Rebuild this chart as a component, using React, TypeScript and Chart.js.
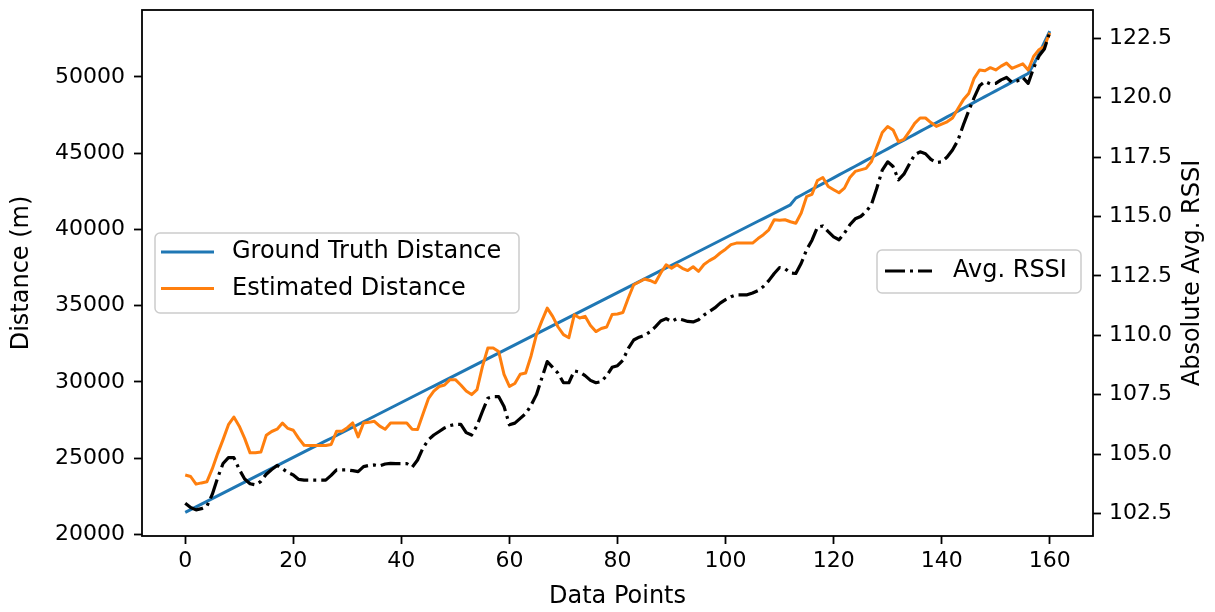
import React, { useEffect, useRef } from "react";
import { Chart, registerables } from "chart.js";

Chart.register(...registerables);

const FONT = '"DejaVu Sans", Verdana, sans-serif';

const dataPoints = Array.from({ length: 161 }, (_, i) => i);

const groundTruth = [
  21450, 21630, 21810, 21990, 22170, 22350, 22530, 22710, 22890, 23070,
  23250, 23430, 23610, 23790, 23970, 24150, 24330, 24510, 24690, 24870,
  25050, 25230, 25410, 25590, 25770, 25950, 26130, 26310, 26490, 26670,
  26850, 27030, 27210, 27390, 27570, 27750, 27930, 28110, 28290, 28470,
  28650, 28830, 29010, 29190, 29370, 29550, 29730, 29910, 30090, 30270,
  30450, 30630, 30810, 30990, 31170, 31350, 31530, 31710, 31890, 32070,
  32250, 32430, 32610, 32790, 32970, 33150, 33330, 33510, 33690, 33870,
  34050, 34230, 34410, 34590, 34770, 34950, 35130, 35310, 35490, 35670,
  35850, 36030, 36210, 36390, 36570, 36750, 36930, 37110, 37290, 37470,
  37650, 37830, 38010, 38190, 38370, 38550, 38730, 38910, 39090, 39270,
  39450, 39630, 39810, 39990, 40170, 40350, 40530, 40710, 40890, 41070,
  41250, 41430, 41610, 42050, 42240, 42430, 42620, 42810, 43000, 43190,
  43380, 43570, 43760, 43950, 44140, 44330, 44520, 44710, 44900, 45090,
  45280, 45470, 45660, 45850, 46040, 46230, 46420, 46610, 46800, 46990,
  47180, 47370, 47560, 47750, 47940, 48130, 48320, 48510, 48700, 48890,
  49080, 49270, 49460, 49650, 49840, 50030, 50220, 50800, 51500, 52250,
  53000,
];

const estimated = [
  23900, 23800, 23300, 23380, 23450, 24300, 25300, 26220, 27200, 27700,
  27100, 26300, 25350, 25350, 25400, 26500, 26750, 26900, 27300, 26950,
  26830, 26300, 25850, 25830, 25830, 25830, 25830, 25900, 26770, 26770,
  27000, 27310, 26400, 27310, 27350, 27420, 27100, 26900, 27310, 27310,
  27310, 27310, 26900, 26880, 27900, 28900, 29400, 29700, 29800, 30150,
  30150, 29800, 29400, 29170, 29500, 31000, 32220, 32220, 32000, 30500,
  29710, 29900, 30500, 30590, 31700, 33100, 34000, 34840, 34300, 33600,
  33100, 32900, 34400, 34190, 34300, 33700, 33300, 33500, 33600, 34420,
  34450, 34550, 35500, 36370, 36550, 36750, 36650, 36500, 37140, 37680,
  37460, 37680, 37450, 37300, 37550, 37250, 37700, 37950, 38150, 38450,
  38700, 39000, 39100, 39100, 39100, 39100, 39400, 39650, 39970, 40630,
  40600, 40630, 40500, 40400, 41070, 42160, 42300, 43200, 43400, 42810,
  42600, 42400, 42700, 43400, 43800, 43900, 44000, 44450, 45400, 46350,
  46740, 46520, 45750, 45900, 46400, 46950, 47300, 47300, 47000, 46750,
  46900, 47050, 47300, 47900, 48490, 48900, 49900, 50450, 50400, 50600,
  50450, 50700, 50900, 50550, 50700, 50850, 50450, 51330, 51780, 52000,
  52880,
];

const avgRssi = [
  102.93, 102.75, 102.65, 102.7, 102.8, 103.3, 104.0, 104.6, 104.85, 104.85,
  104.35, 103.95, 103.75, 103.7, 103.85, 104.15, 104.35, 104.52, 104.38, 104.22,
  104.12, 103.93, 103.9, 103.9, 103.9, 103.9, 103.9, 104.1, 104.33, 104.33,
  104.33, 104.3, 104.26, 104.47, 104.52, 104.54, 104.5, 104.58, 104.61, 104.6,
  104.6, 104.6, 104.45, 104.75, 105.25, 105.6, 105.8, 105.95, 106.1, 106.2,
  106.25, 106.25, 105.9, 105.8, 106.2, 106.79, 107.35, 107.42, 107.42, 107.0,
  106.23, 106.3, 106.5, 106.7, 107.05, 107.5, 108.2, 108.89, 108.65, 108.4,
  108.0, 108.0, 108.5, 108.45, 108.3, 108.1, 108.0, 108.05, 108.3, 108.65,
  108.72, 108.95, 109.45, 109.8, 109.92, 110.0, 110.14, 110.35, 110.6, 110.7,
  110.58, 110.7, 110.65, 110.58, 110.56, 110.65, 110.85, 111.0, 111.15, 111.35,
  111.5, 111.62, 111.7, 111.7, 111.7, 111.78, 111.88, 112.05, 112.3, 112.6,
  112.85, 112.8, 112.62, 112.6, 113.03, 113.6, 114.0, 114.55, 114.6, 114.36,
  114.14, 114.02, 114.3, 114.65, 114.9, 115.0, 115.2, 115.5, 116.2, 116.95,
  117.3, 117.1, 116.54, 116.78, 117.2, 117.6, 117.72, 117.64, 117.4, 117.27,
  117.3, 117.5, 117.8, 118.2, 118.85, 119.45, 120.0, 120.5, 120.68, 120.58,
  120.6, 120.75, 120.85, 120.65, 120.7, 120.85, 120.6, 121.24, 121.75, 122.05,
  122.75,
];

const xTicks = [0, 20, 40, 60, 80, 100, 120, 140, 160];
const leftTicks = [20000, 25000, 30000, 35000, 40000, 45000, 50000];
const rightTicks = [102.5, 105.0, 107.5, 110.0, 112.5, 115.0, 117.5, 120.0, 122.5];

const xTitle = "Data Points";
const leftTitle = "Distance (m)";
const rightTitle = "Absolute Avg. RSSI";

const BLUE = "#1f77b4";
const ORANGE = "#ff7f0e";
const BLACK = "#000000";
const RSSI_DASH = [20, 5, 3, 5];

function legendBox(ctx: CanvasRenderingContext2D, x: number, y: number, w: number, h: number) {
  ctx.save();
  ctx.beginPath();
  (ctx as any).roundRect(x, y, w, h, 5);
  ctx.fillStyle = "rgba(255,255,255,0.8)";
  ctx.fill();
  ctx.strokeStyle = "#cccccc";
  ctx.lineWidth = 1.5;
  ctx.stroke();
  ctx.restore();
}

function legendItem(
  ctx: CanvasRenderingContext2D,
  x0: number,
  x1: number,
  tx: number,
  y: number,
  color: string,
  dash: number[],
  label: string
) {
  ctx.save();
  ctx.strokeStyle = color;
  ctx.lineWidth = 3.2;
  ctx.setLineDash(dash);
  ctx.lineCap = "butt";
  ctx.beginPath();
  ctx.moveTo(x0, y);
  ctx.lineTo(x1, y);
  ctx.stroke();
  ctx.setLineDash([]);
  ctx.fillStyle = "#000";
  ctx.font = `24px ${FONT}`;
  ctx.textAlign = "left";
  ctx.textBaseline = "middle";
  ctx.fillText(label, tx, y);
  ctx.restore();
}

const decorPlugin = {
  id: "decor",
  afterDatasetsDraw(chart: any) {
    const { ctx, chartArea: a } = chart;
    ctx.save();
    ctx.strokeStyle = "#000";
    ctx.lineWidth = 1.8;
    ctx.strokeRect(a.left, a.top, a.right - a.left, a.bottom - a.top);
    ctx.restore();
  },
  afterDraw(chart: any) {
    const { ctx, chartArea: a } = chart;
    const ds = chart.data.datasets;
    const midY = (a.top + a.bottom) / 2;
    ctx.save();
    ctx.fillStyle = "#000";
    ctx.font = `24px ${FONT}`;
    ctx.textAlign = "center";
    ctx.textBaseline = "middle";
    ctx.fillText(xTitle, (a.left + a.right) / 2, 597);
    ctx.save();
    ctx.translate(22, midY);
    ctx.rotate(-Math.PI / 2);
    ctx.fillText(leftTitle, 0, 0);
    ctx.restore();
    ctx.save();
    ctx.translate(1193, midY);
    ctx.rotate(-Math.PI / 2);
    ctx.fillText(rightTitle, 0, 0);
    ctx.restore();
    ctx.restore();

    // legend for distance axis
    legendBox(ctx, 155, 233, 364, 80);
    legendItem(ctx, 161, 214, 232, 252, ds[2].borderColor, [], ds[2].label);
    legendItem(ctx, 161, 214, 232, 288.5, ds[1].borderColor, [], ds[1].label);
    // legend for RSSI axis
    legendBox(ctx, 877, 250, 204, 43);
    legendItem(ctx, 885, 932, 953, 271, ds[0].borderColor, RSSI_DASH, ds[0].label);
  },
};

function tickGrid() {
  return {
    display: true,
    drawOnChartArea: false,
    drawTicks: true,
    tickLength: 8,
    tickWidth: 1.8,
    tickColor: "#000",
  };
}

function noPad(s: any) {
  s.paddingTop = 0;
  s.paddingBottom = 0;
  s.paddingLeft = 0;
  s.paddingRight = 0;
}

export default function App() {
  const canvasRef = useRef<HTMLCanvasElement | null>(null);

  useEffect(() => {
    const canvas = canvasRef.current;
    if (!canvas) return;
    const chart = new Chart(canvas, {
      type: "line",
      data: {
        datasets: [
          {
            label: "Avg. RSSI",
            data: dataPoints.map((x, i) => ({ x, y: avgRssi[i] })),
            yAxisID: "y1",
            borderColor: BLACK,
            borderWidth: 3.2,
            borderDash: RSSI_DASH,
            borderCapStyle: "butt",
            borderJoinStyle: "round",
            pointRadius: 0,
            tension: 0,
            order: 0,
          },
          {
            label: "Estimated Distance",
            data: dataPoints.map((x, i) => ({ x, y: estimated[i] })),
            yAxisID: "y",
            borderColor: ORANGE,
            borderWidth: 3,
            borderJoinStyle: "round",
            pointRadius: 0,
            tension: 0,
            order: 1,
          },
          {
            label: "Ground Truth Distance",
            data: dataPoints.map((x, i) => ({ x, y: groundTruth[i] })),
            yAxisID: "y",
            borderColor: BLUE,
            borderWidth: 3,
            borderJoinStyle: "round",
            pointRadius: 0,
            tension: 0,
            order: 2,
          },
        ],
      },
      options: {
        responsive: false,
        animation: false,
        devicePixelRatio: 1,
        layout: { padding: { top: 10, left: 0, right: 0, bottom: 0 } },
        plugins: {
          legend: { display: false },
          tooltip: { enabled: false },
        },
        scales: {
          x: {
            type: "linear",
            position: "bottom",
            min: -8,
            max: 168,
            afterBuildTicks: (s: any) => {
              s.ticks = xTicks.map((v) => ({ value: v }));
            },
            afterFit: (s: any) => {
              s.height = 76;
              noPad(s);
            },
            grid: tickGrid(),
            border: { display: false },
            ticks: {
              font: { family: FONT, size: 22 },
              color: "#000",
              padding: 4,
              maxRotation: 0,
              autoSkip: false,
              callback: (v: any) => String(v),
            },
          },
          y: {
            type: "linear",
            position: "left",
            min: 19900,
            max: 54380,
            afterBuildTicks: (s: any) => {
              s.ticks = leftTicks.map((v) => ({ value: v }));
            },
            afterFit: (s: any) => {
              s.width = 142;
              noPad(s);
            },
            grid: tickGrid(),
            border: { display: false },
            ticks: {
              font: { family: FONT, size: 22 },
              color: "#000",
              padding: 9,
              autoSkip: false,
              callback: (v: any) => String(v),
            },
          },
          y1: {
            type: "linear",
            position: "right",
            min: 101.55,
            max: 123.69,
            afterBuildTicks: (s: any) => {
              s.ticks = rightTicks.map((v) => ({ value: v }));
            },
            afterFit: (s: any) => {
              s.width = 122;
              noPad(s);
            },
            grid: tickGrid(),
            border: { display: false },
            ticks: {
              font: { family: FONT, size: 22 },
              color: "#000",
              padding: 8,
              autoSkip: false,
              callback: (v: any) => Number(v).toFixed(1),
            },
          },
        },
      },
      plugins: [decorPlugin],
    } as any);
    return () => chart.destroy();
  }, []);

  return (
    <div style={{ position: "fixed", left: 0, top: 0, width: 1215, height: 612, background: "#fff" }}>
      <canvas ref={canvasRef} width={1215} height={612} style={{ display: "block" }} />
    </div>
  );
}
